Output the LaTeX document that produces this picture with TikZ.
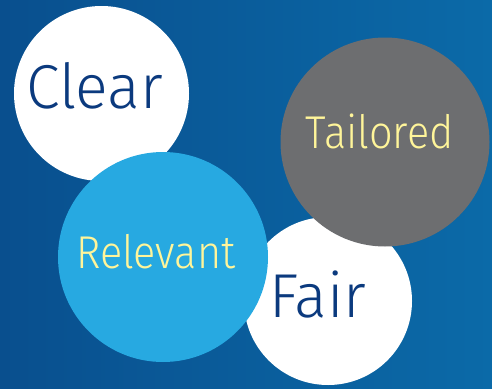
\documentclass[tikz,border=0pt]{standalone}
\usepackage{fontspec}
\setmainfont{Fira Sans}[UprightFont=* Light]
\usetikzlibrary{positioning}
\definecolor{bgdark}{HTML}{094F8E}
\definecolor{bglight}{HTML}{0B6AA8}
\definecolor{skyblue}{HTML}{27A9E1}
\definecolor{slate}{HTML}{6D6E70}
\definecolor{navy}{HTML}{0B3A7E}
\definecolor{butter}{HTML}{FFF59A}
\tikzset{bubble/.style={circle, draw=none, inner sep=0pt}}
\tikzset{bigword/.style={anchor=base, inner sep=0pt, xscale=0.98, font=\fontsize{62}{62}\selectfont}}
\tikzset{smallword/.style={anchor=base, inner sep=0pt, xscale=0.9, font=\fontsize{46}{46}\selectfont}}

\begin{document}
\begin{tikzpicture}[x=1pt, y=1pt]
        \useasboundingbox (0,0) rectangle (492,-388);
        \shade[left color=bgdark, right color=bglight] (0,0) rectangle (492,-388);

        \node[bubble, fill=white, minimum size=175pt] (clear) at (101.5,-93.5) {};
        \node[bubble, fill=white, minimum size=168pt] (fair) at (328,-301) {};
        \node[bubble, fill=slate, minimum size=209pt] (tailored) at (385,-142) {};
        \node[bubble, fill=skyblue, minimum size=210pt] (relevant) at (163,-257) {};

        \node[bigword, text=navy, xshift=-7pt, yshift=-14.5pt] (cleartext) at (clear) {Clear};
        \node[bigword, text=navy, xshift=-10.5pt, yshift=-16pt] (fairtext) at (fair) {Fair};
        \node[smallword, text=butter, xshift=-6pt, yshift=-6pt] (tailoredtext) at (tailored) {Tailored};
        \node[smallword, text=butter, xshift=-8pt, yshift=-11pt] (relevanttext) at (relevant) {Relevant};
\end{tikzpicture}
\end{document}
